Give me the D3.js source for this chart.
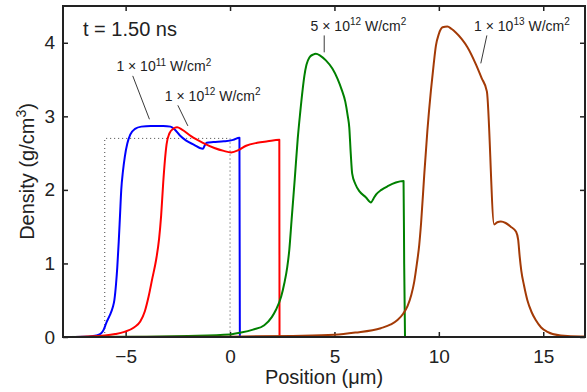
<!DOCTYPE html>
<html><head><meta charset="utf-8">
<script src="https://cdn.jsdelivr.net/npm/d3@7"></script>
<style>body{margin:0;background:#fff}svg{display:block}text{font-family:"Liberation Sans",Arial,sans-serif;fill:#222}</style>
</head><body>
<svg id="c" width="587" height="392"></svg>
<script>
// ---------- data ----------
const xTicks = [-5, 0, 5, 10, 15];
const yTicks = [0, 1, 2, 3, 4];
const timeLabel = "t = 1.50 ns";
const seriesNames = ["1e11", "1e12", "5e12", "1e13"];
const seriesColors = ["#0000ff", "#ff0000", "#008000", "#a33a06"];
const seriesExp = ["11", "12", "12", "13"];
const seriesMant = ["1", "1", "5", "1"];

const blue = [[-8,0],[-7,0.003],[-6.6,0.012],[-6.4,0.022],[-6.17,0.05],[-6.05,0.1],[-5.93,0.19],[-5.75,0.3],[-5.62,0.4],[-5.54,0.5],[-5.46,0.72],[-5.4,0.95],[-5.33,1.3],[-5.27,1.65],[-5.21,2.0],[-5.13,2.25],[-5.04,2.45],[-4.92,2.63],[-4.78,2.75],[-4.55,2.83],[-4.25,2.86],[-3.8,2.87],[-3.2,2.87],[-2.85,2.86],[-2.65,2.82],[-2.4,2.74],[-2.1,2.67],[-1.7,2.61],[-1.45,2.57],[-1.3,2.56],[-1.22,2.6],[-1.12,2.64],[-0.8,2.65],[-0.3,2.66],[0.15,2.68],[0.45,2.71],[0.47,0]];
const red = [[-8,0],[-7,0.005],[-6,0.02],[-5.5,0.04],[-5.06,0.07],[-4.6,0.13],[-4.3,0.21],[-4.08,0.35],[-3.9,0.55],[-3.72,0.8],[-3.54,1.05],[-3.4,1.33],[-3.3,1.65],[-3.2,2.1],[-3.12,2.4],[-3.04,2.62],[-2.9,2.77],[-2.72,2.83],[-2.54,2.85],[-2.3,2.82],[-1.87,2.73],[-1.3,2.64],[-0.75,2.57],[-0.3,2.53],[0.05,2.51],[0.4,2.54],[0.77,2.6],[1.3,2.64],[1.8,2.66],[2.36,2.68],[2.37,0]];
const green = [[-8,0],[-4,0.005],[-2,0.015],[0,0.035],[0.53,0.06],[1.1,0.1],[1.64,0.16],[2.0,0.27],[2.2,0.37],[2.45,0.55],[2.6,0.73],[2.74,0.95],[2.84,1.19],[2.95,1.6],[3.1,2.15],[3.24,2.69],[3.36,3.05],[3.48,3.37],[3.56,3.55],[3.66,3.7],[3.8,3.8],[3.98,3.84],[4.11,3.85],[4.3,3.83],[4.59,3.76],[4.9,3.65],[5.15,3.51],[5.35,3.36],[5.52,3.2],[5.64,3.0],[5.71,2.85],[5.78,2.5],[5.85,2.22],[6.0,2.08],[6.2,1.98],[6.5,1.9],[6.75,1.83],[6.87,1.88],[7.0,1.94],[7.25,2.0],[7.55,2.05],[7.94,2.1],[8.31,2.12],[8.34,1.0],[8.38,0]];
const brown = [[-8,0],[0,0.005],[3,0.015],[5,0.03],[6,0.06],[7.22,0.12],[7.7,0.17],[8.02,0.23],[8.3,0.32],[8.5,0.42],[8.68,0.57],[8.82,0.75],[8.95,1.0],[9.06,1.25],[9.15,1.55],[9.3,2.2],[9.45,2.8],[9.62,3.35],[9.75,3.7],[9.86,3.96],[10.0,4.12],[10.18,4.21],[10.41,4.22],[10.6,4.19],[10.81,4.14],[11.1,4.05],[11.37,3.94],[11.77,3.71],[12.05,3.52],[12.3,3.34],[12.65,1.53],[12.8,1.56],[12.97,1.57],[13.2,1.55],[13.44,1.5],[13.7,1.43],[13.8,1.32],[13.87,1.1],[13.95,0.9],[14.08,0.7],[14.24,0.5],[14.44,0.34],[14.64,0.23],[14.9,0.13],[15.2,0.07],[15.84,0.02],[16.8,0.008],[17,0.008]];
const initialProfile = [[-6,0],[-6,2.7],[0,2.7],[0,0]];

// ---------- layout ----------
const svg = d3.select("#c");
const L = 63, R = 585, T = 6, B = 337;
const x = d3.scaleLinear().domain([-8, 17]).range([L, R]);
const y = d3.scaleLinear().domain([0, 4.5]).range([B, T]);

// axes (ticks inward)
const fs = 19;
const axB = svg.append("g").attr("transform", `translate(0,${B})`)
  .call(d3.axisBottom(x).tickValues(xTicks).tickFormat(d3.format("d")).tickSize(-5).tickPadding(12.5));
const axL = svg.append("g").attr("transform", `translate(${L},0)`)
  .call(d3.axisLeft(y).tickValues(yTicks).tickFormat(d3.format("d")).tickSize(-5).tickPadding(8));
const axT = svg.append("g").attr("transform", `translate(0,${T})`)
  .call(d3.axisTop(x).tickValues(xTicks).tickSize(-5).tickFormat(""));
const axR = svg.append("g").attr("transform", `translate(${R},0)`)
  .call(d3.axisRight(y).tickValues(yTicks).tickSize(-5).tickFormat(""));
[axB, axL, axT, axR].forEach(a => {
  a.select(".domain").remove();
  a.selectAll("line").attr("stroke", "#222").attr("stroke-width", 1.5);
  a.selectAll("text").style("font-size", fs + "px").style("fill", "#222")
   .style("font-family", '"Liberation Sans", Arial, sans-serif');
});

// initial profile dotted
svg.append("path").datum(initialProfile)
  .attr("d", d3.line().x(d => x(d[0])).y(d => y(d[1])))
  .attr("fill", "none").attr("stroke", "#444").attr("stroke-width", 1)
  .attr("stroke-dasharray", "1,3");

// curves
const line = d3.line().x(d => x(d[0])).y(d => y(d[1])).curve(d3.curveMonotoneX);
const allSeries = [blue, red, green, brown];
svg.append("g").selectAll("path").data(allSeries).join("path")
  .attr("d", line).attr("fill", "none")
  .attr("stroke", (d, i) => seriesColors[i]).attr("stroke-width", 2)
  .attr("stroke-linejoin", "round");

// frame
svg.append("rect").attr("x", L).attr("y", T).attr("width", R - L).attr("height", B - T)
  .attr("fill", "none").attr("stroke", "#222").attr("stroke-width", 2);

// time label
svg.append("text").attr("x", 83).attr("y", 36).style("font-size", "20px").text(timeLabel);

// annotations: label center x (data), baseline y (data), leader from/to (data)
const annPos = [
  {cx: -3.17, by: 3.615, l: [[-4.66, 3.55], [-3.86, 2.96]]},
  {cx: -0.83, by: 3.21, l: [[-2.5, 3.15], [-2.02, 2.87]]},
  {cx: 6.15, by: 4.165, l: [[4.51, 4.1], [4.51, 3.87]]},
  {cx: 13.98, by: 4.165, l: [[12.3, 4.1], [12.01, 3.72]]}
];
annPos.forEach((a, i) => {
  const t = svg.append("text").attr("x", x(a.cx)).attr("y", y(a.by))
    .attr("text-anchor", "middle").style("font-size", "14px");
  t.append("tspan").text(seriesMant[i] + " \u00d7 10");
  t.append("tspan").attr("dy", -5.5).style("font-size", "10px").text(seriesExp[i]);
  t.append("tspan").attr("dy", 5.5).text(" W/cm");
  t.append("tspan").attr("dy", -5.5).style("font-size", "10px").text("2");
  svg.append("line").attr("x1", x(a.l[0][0])).attr("y1", y(a.l[0][1]))
    .attr("x2", x(a.l[1][0])).attr("y2", y(a.l[1][1]))
    .attr("stroke", "#222").attr("stroke-width", 0.9);
});

// axis labels
svg.append("text").attr("x", (L + R) / 2).attr("y", 384).attr("text-anchor", "middle")
  .style("font-size", "20px").text("Position (\u03bcm)");
const yl = svg.append("text").attr("transform", `translate(33.5,${(T + B) / 2}) rotate(-90)`)
  .attr("text-anchor", "middle").style("font-size", "20px");
yl.append("tspan").text("Density (g/cm");
yl.append("tspan").attr("dy", -8).style("font-size", "14px").text("3");
yl.append("tspan").attr("dy", 8).text(")");
</script>
</body></html>
